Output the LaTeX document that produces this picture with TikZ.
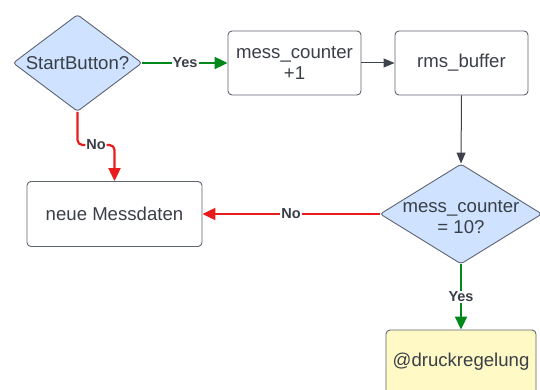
\documentclass[tikz,border=0pt]{standalone}
\usepackage{fontspec}
\setmainfont{Liberation Sans}
\usetikzlibrary{shapes.geometric,arrows.meta}

\definecolor{edge}{HTML}{5E6470}
\definecolor{decfill}{HTML}{CFE2FF}
\definecolor{termfill}{HTML}{FFF9C6}
\definecolor{yesgreen}{HTML}{00881A}
\definecolor{nored}{HTML}{E81C1C}
\definecolor{flowgray}{HTML}{3D434D}
\definecolor{txt}{HTML}{3A3F47}

\begin{document}
\begin{tikzpicture}[x=1pt,y=-1pt,
  every node/.style={font=\fontsize{18.6}{21.5}\selectfont, text=txt},
  procbox/.style={draw=edge, line width=0.9pt, rounded corners=4pt, fill=white,
    align=center, inner sep=0pt},
  decision/.style={diamond, draw=edge, line width=0.9pt, fill=decfill,
    rounded corners=3pt, inner sep=0pt},
  caption/.style={label={[align=center, text=txt]center:#1}},
  flow/.style={draw=flowgray, line width=1pt, -{Triangle[length=11pt,width=9pt]}},
  yesflow/.style={draw=yesgreen, line width=2pt, -{Triangle[length=13pt,width=12pt]}},
  noflow/.style={draw=nored, line width=2.2pt, -{Triangle[length=13pt,width=12pt]}},
  lbl/.style={font=\bfseries\fontsize{14.5}{16}\selectfont, fill=white,
    inner sep=1pt, text=txt}]

  \useasboundingbox (0,0) rectangle (540,390);

  % decisions (text placed as a centred label so it does not size the diamond)
  \node[decision, minimum width=129pt, minimum height=97pt,
        caption={StartButton?}] (start) at (77.5,63) {};
  \node[decision, minimum width=162pt, minimum height=100pt,
        label={[align=center, text=txt, yshift=-3pt]center:mess\_counter\\= 10?}]
        (full) at (461,214) {};

  % process steps
  \node[procbox, minimum width=133pt, minimum height=64pt] (inc) at (294.5,63)
    {mess\_counter\\+1};
  \node[procbox, minimum width=133pt, minimum height=64pt] (rms) at (461.5,63) {rms\_buffer};
  \node[procbox, minimum width=175pt, minimum height=65pt] (neu) at (114.5,214) {neue Messdaten};
  \node[procbox, fill=termfill, minimum width=150pt, minimum height=64pt] (druck) at (461,362)
    {@druckregelung};

  % connectors
  \draw[yesflow] (start.east) -- node[lbl] {Yes} (inc.west);
  \draw[flow] (inc.east) -- (rms.west);
  \draw[flow] (rms.south) -- (full.north);
  \draw[noflow] (full.west) -- node[lbl] {No} (neu.east);
  \draw[yesflow] (full.south) -- node[lbl] {Yes} (druck.north);
  \draw[noflow, rounded corners=5pt] (start.south) -- (start.south |- 0,145)
    -| node[lbl, pos=0.25] {No} (neu.north);
\end{tikzpicture}
\end{document}
